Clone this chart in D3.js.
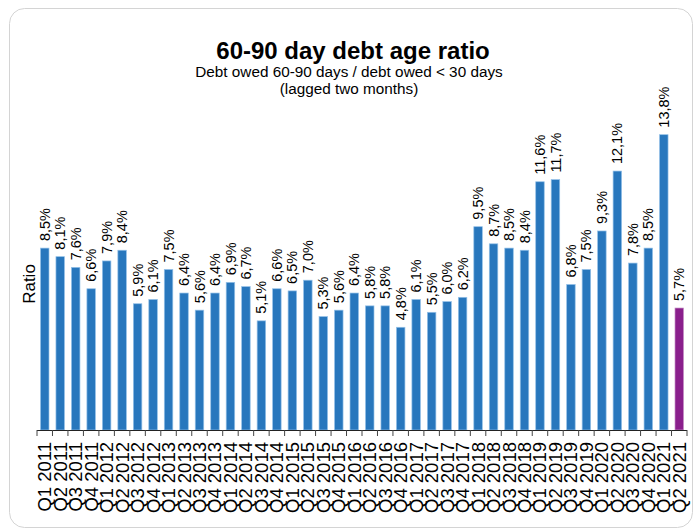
<!DOCTYPE html>
<html>
<head>
<meta charset="utf-8">
<script src="https://cdn.jsdelivr.net/npm/d3@7"></script>
<style>
html,body{margin:0;padding:0;background:#fff;}
svg{display:block;font-family:"Liberation Sans",Arial,sans-serif;}
</style>
</head>
<body>
<svg id="chart" width="699" height="531"></svg>
<script>
const categories = ["Q1 2011","Q2 2011","Q3 2011","Q4 2011","Q1 2012","Q2 2012","Q3 2012","Q4 2012",
  "Q1 2013","Q2 2013","Q3 2013","Q4 2013","Q1 2014","Q2 2014","Q3 2014","Q4 2014",
  "Q1 2015","Q2 2015","Q3 2015","Q4 2015","Q1 2016","Q2 2016","Q3 2016","Q4 2016",
  "Q1 2017","Q2 2017","Q3 2017","Q4 2017","Q1 2018","Q2 2018","Q3 2018","Q4 2018",
  "Q1 2019","Q2 2019","Q3 2019","Q4 2019","Q1 2020","Q2 2020","Q3 2020","Q4 2020",
  "Q1 2021","Q2 2021"];
const ratioValues = [8.5,8.1,7.6,6.6,7.9,8.4,5.9,6.1,
  7.5,6.4,5.6,6.4,6.9,6.7,5.1,6.6,
  6.5,7.0,5.3,5.6,6.4,5.8,5.8,4.8,
  6.1,5.5,6.0,6.2,9.5,8.7,8.5,8.4,
  11.6,11.7,6.8,7.5,9.3,12.1,7.8,8.5,
  13.8,5.7];
const highlighted = ["Q2 2021"];
const titleText = "60-90 day debt age ratio";
const subtitleLines = ["Debt owed 60-90 days / debt owed < 30 days", "(lagged two months)"];
const yAxisLabel = "Ratio";

const data = categories.map((c,i)=>({cat:c, value:ratioValues[i]}));
const svg = d3.select("#chart");

// frame
svg.append("rect").attr("x",9.5).attr("y",8.5).attr("width",683).attr("height",519)
  .attr("rx",15).attr("fill","#fff").attr("stroke","#d4d4d4").attr("stroke-width",1);

const x = d3.scaleBand().domain(categories).range([37,687]).paddingInner(0.45).paddingOuter(0.225);
const y = d3.scaleLinear().domain([0,16]).range([430,87.6]);

const fmt = v => d3.format(".1f")(v).replace(".", ",") + "%";

// bars
svg.append("g").selectAll("rect").data(data).join("rect")
  .attr("x", d=>x(d.cat)).attr("width", x.bandwidth())
  .attr("y", d=>y(d.value)).attr("height", d=>y(0)-y(d.value))
  .attr("fill", d=>highlighted.includes(d.cat) ? "#8a1f8c" : "#2877bd")
  .attr("stroke", d=>highlighted.includes(d.cat) ? "#c58fc6" : "#94c1e8")
  .attr("stroke-width",0.7);

// value labels
svg.append("g").selectAll("text").data(data).join("text")
  .attr("transform", d=>`translate(${x(d.cat)+x.bandwidth()/2},${y(d.value)-7}) rotate(-90)`)
  .attr("dy","0.35em")
  .attr("text-anchor","start")
  .attr("font-size",14.5)
  .attr("fill","#000")
  .text(d=>fmt(d.value));

// x axis
const xAxis = d3.axisBottom(x).tickSize(0).tickFormat(d=>d);
const gx = svg.append("g").attr("transform","translate(0,430)").call(xAxis);
gx.select(".domain").attr("stroke","#222").attr("d","M37,0.5H687");
gx.selectAll(".tick text")
  .attr("transform","rotate(-90)")
  .attr("text-anchor","end")
  .attr("x",-12).attr("y",0).attr("dy","0.35em")
  .attr("font-size",18.5)
  .attr("font-family","'Liberation Sans',Arial,sans-serif")
  .attr("fill","#000");
// boundary ticks
const boundaries = d3.range(categories.length+1).map(i=>37 + i*x.step());
gx.append("g").selectAll("line").data(boundaries).join("line")
  .attr("x1",d=>d).attr("x2",d=>d).attr("y1",0).attr("y2",6)
  .attr("stroke","#444").attr("stroke-width",1);

// y label
svg.append("text").attr("transform","translate(29,284) rotate(-90)")
  .attr("text-anchor","middle").attr("dy","0.35em").attr("font-size",17)
  .text(yAxisLabel);

// title
svg.append("text").attr("x",353).attr("y",59).attr("text-anchor","middle")
  .attr("font-size",24).attr("font-weight","bold").text(titleText);
svg.selectAll(".sub").data(subtitleLines).join("text").attr("class","sub")
  .attr("x",349).attr("y",(d,i)=>77+i*16.5).attr("text-anchor","middle")
  .attr("font-size",15.3).text(d=>d);
</script>
</body>
</html>
